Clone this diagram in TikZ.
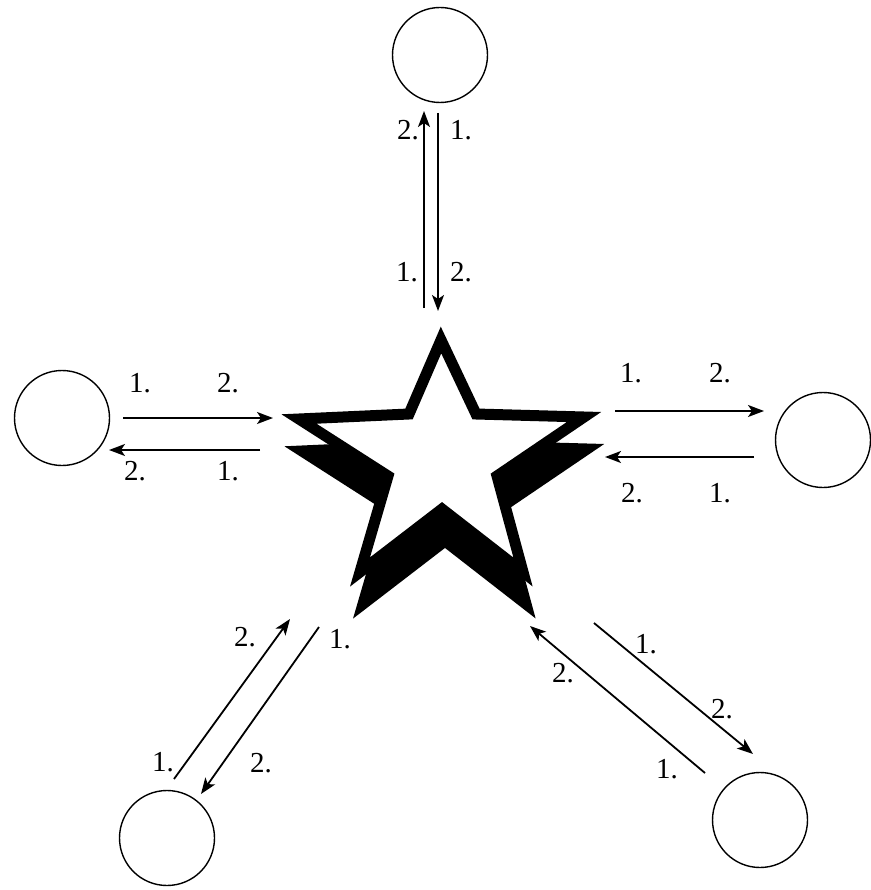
\documentclass[tikz,border=0pt]{standalone}
\usepackage{fontspec}
\setmainfont{Liberation Serif}
\newfontfamily\labfont{Liberation Serif}
\usetikzlibrary{arrows.meta}
\begin{document}
\begin{tikzpicture}[x=1pt,y=-1pt,
  peer/.style={circle,draw,line width=1.4pt,minimum size=95pt,inner sep=0pt},
  msg/.style={line width=1.8pt,-{Stealth[length=16pt,width=12pt,inset=4pt]}},
  lab/.style={inner sep=0pt,font=\labfont\fontsize{29}{31}\selectfont}]
\useasboundingbox (0,0) rectangle (870,890);
% peers
\node[peer] (top) at (440,55) {};
\node[peer] (left) at (62,418) {};
\node[peer] (right) at (823,440) {};
\node[peer] (bl) at (167,838) {};
\node[peer] (br) at (760,820) {};
% star
\def\starpath{(441,340) -- (476,414) -- (584,417) -- (497,476) -- (523,572) -- (442,509) -- (360,572) -- (388,476) -- (299,419) -- (409,414) -- cycle}
\begin{scope}[shift={(3,32)}]
\filldraw[line width=11pt,line join=miter] \starpath;
\end{scope}
\filldraw[fill=white,draw=black,line width=11pt,line join=miter] \starpath;
% top arrows
\coordinate (t1s) at (424,308); \coordinate (t1e) at (424,111);
\coordinate (t2s) at (438,113); \coordinate (t2e) at (438,311);
\draw[msg] (t1s) -- (t1e);
\draw[msg] (t2s) -- (t2e);
\node[lab] (ta) at (408,130) {2.};
\node[lab] (tb) at (461,130) {1.};
\node[lab] (tc) at (407,272) {1.};
\node[lab] (td) at (461,272) {2.};
% left arrows
\coordinate (l1s) at (123,418); \coordinate (l1e) at (273,418);
\coordinate (l2s) at (260,450); \coordinate (l2e) at (109,450);
\draw[msg] (l1s) -- (l1e);
\draw[msg] (l2s) -- (l2e);
\node[lab] (la) at (140,383) {1.};
\node[lab] (lb) at (228,383) {2.};
\node[lab] (lc) at (135,471) {2.};
\node[lab] (ld) at (228,471) {1.};
% right arrows
\coordinate (r1s) at (615,411); \coordinate (r1e) at (764,411);
\coordinate (r2s) at (754,457); \coordinate (r2e) at (605,457);
\draw[msg] (r1s) -- (r1e);
\draw[msg] (r2s) -- (r2e);
\node[lab] (ra) at (631,373) {1.};
\node[lab] (rb) at (720,373) {2.};
\node[lab] (rc) at (632,493) {2.};
\node[lab] (rd) at (720,493) {1.};
% bottom-left arrows
\coordinate (b1s) at (174,779); \coordinate (b1e) at (290,619);
\coordinate (b2s) at (319,627); \coordinate (b2e) at (201,794);
\draw[msg] (b1s) -- (b1e);
\draw[msg] (b2s) -- (b2e);
\node[lab] (ba) at (245,637) {2.};
\node[lab] (bb) at (340,639) {1.};
\node[lab] (bc) at (163,762) {1.};
\node[lab] (bd) at (261,763) {2.};
% bottom-right arrows
\coordinate (c1s) at (705,773); \coordinate (c1e) at (530,626);
\coordinate (c2s) at (594,623); \coordinate (c2e) at (753,754);
\draw[msg] (c1s) -- (c1e);
\draw[msg] (c2s) -- (c2e);
\node[lab] (ca) at (646,644) {1.};
\node[lab] (cb) at (722,709) {2.};
\node[lab] (cc) at (563,673) {2.};
\node[lab] (cd) at (667,769) {1.};
\end{tikzpicture}
\end{document}
